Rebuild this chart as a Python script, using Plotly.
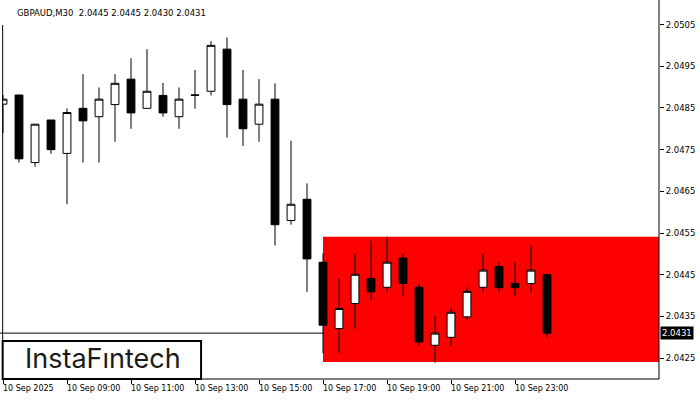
import plotly.graph_objects as go

# ---- data (GBPAUD M30, 10 Sep 2025 07:00 -> 11 Sep 00:00) ----
bar_index = list(range(35))
opens = [2.04859, 2.04881, 2.04719, 2.04821, 2.04741, 2.04849, 2.04829, 2.04858, 2.04919, 2.04849,
         2.04880, 2.04829, 2.04880, 2.04890, 2.04991, 2.04871, 2.04811, 2.04871, 2.04580, 2.04631,
         2.04480, 2.04321, 2.04381, 2.04441, 2.04420, 2.04490, 2.04420, 2.04281, 2.04300, 2.04349,
         2.04420, 2.04470, 2.04429, 2.04429, 2.04450]
highs = [2.04881, 2.04881, 2.04811, 2.04821, 2.04849, 2.04931, 2.04899, 2.04931, 2.04969, 2.04991,
         2.04910, 2.04899, 2.04941, 2.05010, 2.05019, 2.04941, 2.04919, 2.04909, 2.04771, 2.04669,
         2.04501, 2.04441, 2.04501, 2.04531, 2.04541, 2.04501, 2.04429, 2.04351, 2.04369, 2.04420,
         2.04501, 2.04480, 2.04480, 2.04521, 2.04450]
lows = [2.04790, 2.04719, 2.04709, 2.04740, 2.04619, 2.04719, 2.04719, 2.04769, 2.04800, 2.04849,
        2.04829, 2.04800, 2.04848, 2.04880, 2.04779, 2.04759, 2.04769, 2.04520, 2.04570, 2.04409,
        2.04262, 2.04262, 2.04320, 2.04389, 2.04409, 2.04400, 2.04279, 2.04239, 2.04279, 2.04340,
        2.04409, 2.04409, 2.04400, 2.04409, 2.04300]
closes = [2.04871, 2.04728, 2.04811, 2.04750, 2.04839, 2.04819, 2.04871, 2.04909, 2.04838, 2.04890,
          2.04838, 2.04871, 2.04881, 2.05000, 2.04858, 2.04800, 2.04859, 2.04570, 2.04619, 2.04488,
          2.04329, 2.04369, 2.04451, 2.04409, 2.04480, 2.04429, 2.04289, 2.04310, 2.04360, 2.04410,
          2.04461, 2.04419, 2.04419, 2.04461, 2.04310]

x_tick_index = [0, 4, 8, 12, 16, 20, 24, 28, 32]
x_tick_labels = ["10 Sep 2025", "10 Sep 09:00", "10 Sep 11:00", "10 Sep 13:00", "10 Sep 15:00",
                 "10 Sep 17:00", "10 Sep 19:00", "10 Sep 21:00", "10 Sep 23:00"]
y_tick_values = [2.0425, 2.0435, 2.0445, 2.0455, 2.0465, 2.0475, 2.0485, 2.0495, 2.0505]

pattern_start_index = 20
pattern_low = 2.04241
pattern_high = 2.04541
current_price = 2.0431
title_text = "GBPAUD,M30  2.0445 2.0445 2.0430 2.0431"

X_RANGE = [-0.0625, 41.0]
Y_RANGE = [2.04200, 2.051088]
FONT = "DejaVu Sans"

fig = go.Figure()
fig.add_trace(go.Candlestick(
    x=bar_index, open=opens, high=highs, low=lows, close=closes,
    increasing=dict(line=dict(color="black", width=1), fillcolor="white"),
    decreasing=dict(line=dict(color="black", width=1), fillcolor="black"),
    whiskerwidth=0, showlegend=False, hoverinfo="skip",
))

shapes = [
    dict(type="rect", xref="x", yref="y", x0=pattern_start_index, x1=X_RANGE[1],
         y0=pattern_low, y1=pattern_high, fillcolor="#FF0000", line=dict(width=0), layer="below"),
    dict(type="line", xref="paper", yref="y", x0=-0.01, x1=1, y0=current_price, y1=current_price,
         line=dict(color="black", width=1), layer="below"),
    dict(type="line", xref="paper", yref="paper", x0=1, x1=1, y0=0, y1=1,
         line=dict(color="black", width=1)),
    dict(type="line", xref="paper", yref="paper", x0=0, x1=1, y0=0, y1=0,
         line=dict(color="black", width=1)),
    dict(type="line", xref="paper", yref="paper", x0=0.001, x1=0.001, y0=0, y1=0.934,
         line=dict(color="black", width=1)),
    dict(type="rect", xref="paper", yref="paper", x0=0.001, x1=0.303, y0=0.0, y1=0.1003,
         fillcolor="white", line=dict(color="black", width=2)),
]

annotations = []
for xi, lab in zip(x_tick_index, x_tick_labels):
    annotations.append(dict(x=xi, y=0, xref="x", yref="paper", text=lab, showarrow=False,
                            xanchor="left", yanchor="top", xshift=-2, yshift=-3,
                            font=dict(family=FONT, size=8, color="black")))
annotations.append(dict(x=1, y=current_price, xref="paper", yref="y", text="2.0431",
                        showarrow=False, xanchor="left", yanchor="middle", xshift=1,
                        bgcolor="black", borderpad=1,
                        font=dict(family=FONT, size=8.5, color="white")))
annotations.append(dict(x=0.0228, y=0.9657, xref="paper", yref="paper", text=title_text,
                        showarrow=False, xanchor="left", yanchor="middle", xshift=-2,
                        font=dict(family=FONT, size=8.5, color="black")))
annotations.append(dict(x=0.153, y=0.053, xref="paper", yref="paper", text="InstaF\u0131ntech",
                        showarrow=False, xanchor="center", yanchor="middle",
                        font=dict(family="Inter", size=27, color="#1a1a1a")))

fig.update_layout(
    width=700, height=400, autosize=False,
    margin=dict(l=2, r=41, t=0, b=21),
    paper_bgcolor="white", plot_bgcolor="white",
    shapes=shapes, annotations=annotations,
    xaxis=dict(range=X_RANGE, rangeslider=dict(visible=False), showgrid=False, zeroline=False,
               showline=False, tickmode="array", tickvals=x_tick_index, ticktext=[""] * len(x_tick_index),
               ticks="outside", ticklen=4, tickcolor="black", tickwidth=1),
    yaxis=dict(range=Y_RANGE, side="right", showgrid=False, zeroline=False, showline=False,
               tickmode="array", tickvals=y_tick_values, tickformat=".4f",
               ticks="outside", ticklen=4, tickcolor="black", tickwidth=1,
               tickfont=dict(family=FONT, size=8.5, color="black")),
)

fig.write_html("out.html", config={"displayModeBar": False},
               post_script="document.body.style.margin='0';document.body.style.overflow='hidden';")
